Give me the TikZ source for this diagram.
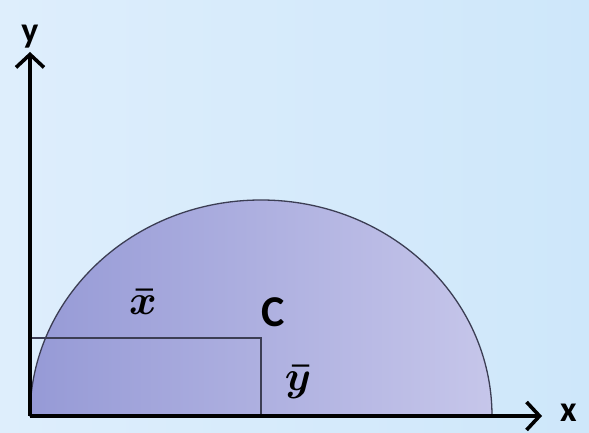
\documentclass[tikz,border=0pt]{standalone}
\usepackage{fontspec}
\setsansfont{Carlito}
\usepackage{xcolor}
\usetikzlibrary{arrows.meta,positioning}

\definecolor{bgleft}{RGB}{222,238,252}
\definecolor{bgright}{RGB}{206,231,250}
\definecolor{areaL}{RGB}{150,154,214}
\definecolor{areaR}{RGB}{198,198,234}
\definecolor{edge}{RGB}{60,62,84}

\begin{document}
\begin{tikzpicture}[
    x=1pt, y=1pt,
    axis/.style={line width=3.6pt, -{Straight Barb[length=13pt,width=28pt]}},
    half/.style={draw=edge, line width=1.3pt, left color=areaL, right color=areaR},
    guide/.style={draw=edge, line width=1.4pt},
    lbl/.style={font=\sffamily\bfseries\fontsize{36}{36}\selectfont, inner sep=0pt},
    mlbl/.style={font=\boldmath, scale=4.2, inner sep=0pt}
]
% background
\useasboundingbox (0,0) rectangle (589,433);
\shade[left color=bgleft, right color=bgright] (0,0) rectangle (589,433);

\coordinate (O) at (30,17);
\coordinate (xtip) at (542,17);
\coordinate (ytip) at (30,381);
\coordinate (ybar) at (261,95);

% half ellipse area
\path[half] (O) arc[start angle=180, end angle=0, x radius=231, y radius=216] -- cycle;

% centroid distances
\draw[guide] (O |- ybar) -- (ybar) -- (ybar |- O);

% axes
\draw[axis] (O) -- (xtip);
\draw[axis] (O) -- (ytip);

\node[lbl, right=18pt of xtip, yshift=3pt] (xlbl) {x};
\node[lbl, above=4pt of ytip] (ylbl) {y};
\node[lbl, font=\sffamily\bfseries\fontsize{44}{44}\selectfont] (cent) at (273,121) {C};
\node[mlbl] (xbar) at (143,131) {$\bar{x}$};
\node[mlbl] (ybarl) at (298,51) {$\bar{y}$};
\end{tikzpicture}
\end{document}
